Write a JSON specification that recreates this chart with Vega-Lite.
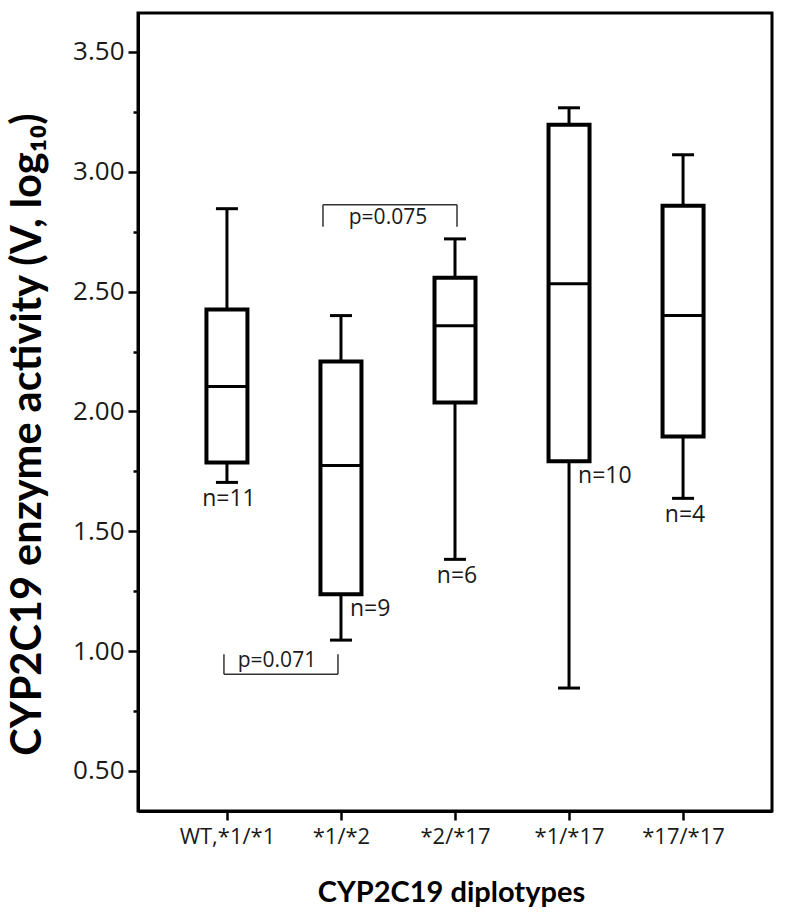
{
  "$schema": "https://vega.github.io/schema/vega-lite/v6.json",
  "width": 634,
  "height": 798,
  "autosize": {"type": "none"},
  "padding": {"left": 138, "top": 13, "right": 28, "bottom": 107},
  "background": "white",
  "config": {
    "view": {"stroke": "black", "strokeWidth": 3},
    "axis": {"domainColor": "black", "domainWidth": 3, "tickColor": "black", "tickWidth": 2.5, "labelColor": "#1a1a1a", "titleColor": "black", "grid": false}
  },
  "datasets": {
    "boxes": [
      {"group": "WT,*1/*1", "lo": 1.704, "q1": 1.7875, "med": 2.104, "q3": 2.425, "hi": 2.846, "n": "n=11", "ny": 1.633},
      {"group": "*1/*2", "lo": 1.046, "q1": 1.2375, "med": 1.775, "q3": 2.208, "hi": 2.40, "n": "n=9", "ny": 1.175},
      {"group": "*2/*17", "lo": 1.383, "q1": 2.0375, "med": 2.358, "q3": 2.558, "hi": 2.72, "n": "n=6", "ny": 1.3125},
      {"group": "*1/*17", "lo": 0.846, "q1": 1.792, "med": 2.533, "q3": 3.196, "hi": 3.267, "n": "n=10", "ny": 1.729},
      {"group": "*17/*17", "lo": 1.6375, "q1": 1.896, "med": 2.40, "q3": 2.858, "hi": 3.071, "n": "n=4", "ny": 1.567}
    ],
    "brackets": [
      {"label": "p=0.075", "g1": "*1/*2", "g2": "*2/*17", "yh": 2.8625, "yl": 2.771, "ty": 2.808},
      {"label": "p=0.071", "g1": "WT,*1/*1", "g2": "*1/*2", "yh": 0.904, "yl": 0.9875, "ty": 0.958}
    ]
  },
  "layer": [
    {
      "data": {"name": "boxes"},
      "mark": {"type": "rule", "color": "black", "strokeWidth": 3},
      "encoding": {
        "x": {
          "field": "group", "type": "nominal",
          "scale": {"type": "point", "padding": 0.78, "domain": ["WT,*1/*1", "*1/*2", "*2/*17", "*1/*17", "*17/*17"]},
          "axis": {
            "title": "CYP2C19 diplotypes",
            "titleFont": "Lato", "titleFontSize": 29, "titleFontWeight": "bold",
            "titleX": 313, "titleY": 81, "titleBaseline": "middle", "titleAlign": "center",
            "labelFont": "Open Sans", "labelFontSize": 22, "labelAngle": 0, "labelPadding": 6,
            "tickSize": 9, "domain": true
          }
        },
        "y": {
          "field": "lo", "type": "quantitative",
          "scale": {"domain": [0.333, 3.6625], "nice": false, "zero": false},
          "axis": {
            "title": "CYP2C19 enzyme activity (V, log₁₀)",
            "titleFont": "Lato", "titleFontSize": 41.5, "titleFontWeight": "bold",
            "titleAngle": -90, "titleX": -110, "titleY": 421, "titleBaseline": "middle", "titleAlign": "center",
            "values": [0.5, 0.75, 1, 1.25, 1.5, 1.75, 2, 2.25, 2.5, 2.75, 3, 3.25, 3.5],
            "labelExpr": "datum.value % 0.5 === 0 ? format(datum.value, '.2f') : ''",
            "labelFont": "Open Sans", "labelFontSize": 26, "labelPadding": 4,
            "tickSize": {"condition": {"test": "datum.value % 0.5 === 0", "value": 10}, "value": 5}
          }
        },
        "y2": {"field": "hi"}
      }
    },
    {
      "data": {"name": "boxes"},
      "mark": {"type": "bar", "fill": "white", "stroke": "black", "strokeWidth": 4, "size": 41},
      "encoding": {
        "x": {"field": "group", "type": "nominal"},
        "y": {"field": "q1", "type": "quantitative"},
        "y2": {"field": "q3"}
      }
    },
    {
      "data": {"name": "boxes"},
      "mark": {"type": "tick", "color": "black", "size": 41, "thickness": 3, "opacity": 1},
      "encoding": {
        "x": {"field": "group", "type": "nominal"},
        "y": {"field": "med", "type": "quantitative"}
      }
    },
    {
      "data": {"name": "boxes"},
      "mark": {"type": "tick", "color": "black", "size": 22, "thickness": 3, "opacity": 1},
      "encoding": {
        "x": {"field": "group", "type": "nominal"},
        "y": {"field": "lo", "type": "quantitative"}
      }
    },
    {
      "data": {"name": "boxes"},
      "mark": {"type": "tick", "color": "black", "size": 22, "thickness": 3, "opacity": 1},
      "encoding": {
        "x": {"field": "group", "type": "nominal"},
        "y": {"field": "hi", "type": "quantitative"}
      }
    },
    {
      "data": {"name": "boxes"},
      "transform": [{"filter": "datum.group !== '*1/*2' && datum.group !== '*1/*17'"}],
      "mark": {"type": "text", "font": "Open Sans", "fontSize": 23, "color": "#1a1a1a", "align": "center", "baseline": "middle", "dx": 2},
      "encoding": {
        "x": {"field": "group", "type": "nominal"},
        "y": {"field": "ny", "type": "quantitative"},
        "text": {"field": "n"}
      }
    },
    {
      "data": {"name": "boxes"},
      "transform": [{"filter": "datum.group === '*1/*2' || datum.group === '*1/*17'"}],
      "mark": {"type": "text", "font": "Open Sans", "fontSize": 23, "color": "#1a1a1a", "align": "left", "baseline": "middle", "dx": 9},
      "encoding": {
        "x": {"field": "group", "type": "nominal"},
        "y": {"field": "ny", "type": "quantitative"},
        "text": {"field": "n"}
      }
    },
    {
      "data": {"name": "brackets"},
      "transform": [{"filter": "datum.label === 'p=0.075'"}],
      "mark": {"type": "rule", "color": "#333", "strokeWidth": 1.5, "xOffset": -18, "x2Offset": 2},
      "encoding": {
        "x": {"field": "g1", "type": "nominal"},
        "x2": {"field": "g2"},
        "y": {"field": "yh", "type": "quantitative"}
      }
    },
    {
      "data": {"name": "brackets"},
      "transform": [{"filter": "datum.label === 'p=0.075'"}],
      "mark": {"type": "rule", "color": "#333", "strokeWidth": 1.5, "xOffset": -18},
      "encoding": {
        "x": {"field": "g1", "type": "nominal"},
        "y": {"field": "yh", "type": "quantitative"},
        "y2": {"field": "yl"}
      }
    },
    {
      "data": {"name": "brackets"},
      "transform": [{"filter": "datum.label === 'p=0.075'"}],
      "mark": {"type": "rule", "color": "#333", "strokeWidth": 1.5, "xOffset": 2},
      "encoding": {
        "x": {"field": "g2", "type": "nominal"},
        "y": {"field": "yh", "type": "quantitative"},
        "y2": {"field": "yl"}
      }
    },
    {
      "data": {"name": "brackets"},
      "transform": [{"filter": "datum.label === 'p=0.075'"}],
      "mark": {"type": "text", "font": "Open Sans", "fontSize": 21, "color": "#1a1a1a", "align": "center", "baseline": "middle", "dx": 47},
      "encoding": {
        "x": {"field": "g1", "type": "nominal"},
        "y": {"field": "ty", "type": "quantitative"},
        "text": {"field": "label"}
      }
    },
    {
      "data": {"name": "brackets"},
      "transform": [{"filter": "datum.label === 'p=0.071'"}],
      "mark": {"type": "rule", "color": "#333", "strokeWidth": 1.5, "xOffset": -3, "x2Offset": -3},
      "encoding": {
        "x": {"field": "g1", "type": "nominal"},
        "x2": {"field": "g2"},
        "y": {"field": "yh", "type": "quantitative"}
      }
    },
    {
      "data": {"name": "brackets"},
      "transform": [{"filter": "datum.label === 'p=0.071'"}],
      "mark": {"type": "rule", "color": "#333", "strokeWidth": 1.5, "xOffset": -3},
      "encoding": {
        "x": {"field": "g1", "type": "nominal"},
        "y": {"field": "yh", "type": "quantitative"},
        "y2": {"field": "yl"}
      }
    },
    {
      "data": {"name": "brackets"},
      "transform": [{"filter": "datum.label === 'p=0.071'"}],
      "mark": {"type": "rule", "color": "#333", "strokeWidth": 1.5, "xOffset": -3},
      "encoding": {
        "x": {"field": "g2", "type": "nominal"},
        "y": {"field": "yh", "type": "quantitative"},
        "y2": {"field": "yl"}
      }
    },
    {
      "data": {"name": "brackets"},
      "transform": [{"filter": "datum.label === 'p=0.071'"}],
      "mark": {"type": "text", "font": "Open Sans", "fontSize": 21, "color": "#1a1a1a", "align": "center", "baseline": "middle", "dx": 50},
      "encoding": {
        "x": {"field": "g1", "type": "nominal"},
        "y": {"field": "ty", "type": "quantitative"},
        "text": {"field": "label"}
      }
    }
  ]
}
